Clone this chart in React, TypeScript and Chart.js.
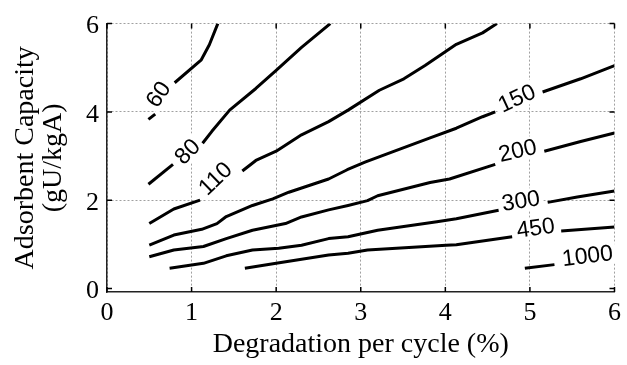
import { useEffect, useRef } from "react";
import { Chart, registerables } from "chart.js";

Chart.register(...registerables);

const xTicks = [0, 1, 2, 3, 4, 5, 6];
const yTicks = [0, 2, 4, 6];

// contour lines (null = gap for the inline label)
const c60X = [0.49, 0.57, null, 0.8, 1.115, 1.21, 1.31];
const c60Y = [3.83, 3.95, null, 4.66, 5.18, 5.52, 6.0];

const c80X = [0.49, 0.78, null, 1.13, 1.24, 1.45, 1.76, 2.0, 2.3, 2.64];
const c80Y = [2.36, 2.81, null, 3.29, 3.56, 4.04, 4.53, 4.94, 5.46, 6.0];

const c110X = [0.5, 0.79, 1.1, null, 1.6, 1.76, 2.0, 2.3, 2.62, 2.85, 3.22, 3.51, 3.76, 4.13, 4.44, 4.61];
const c110Y = [1.47, 1.8, 2.0, null, 2.66, 2.9, 3.11, 3.48, 3.78, 4.04, 4.49, 4.75, 5.05, 5.53, 5.79, 6.0];

const c150X = [0.5, 0.79, 1.12, 1.3, 1.41, 1.72, 1.96, 2.15, 2.62, 2.84, 3.05, 3.24, 3.82, 4.13, 4.44, 4.59, null, 5.15, 5.6, 6.0];
const c150Y = [0.98, 1.21, 1.34, 1.47, 1.63, 1.88, 2.03, 2.18, 2.48, 2.69, 2.86, 3.0, 3.41, 3.63, 3.89, 4.0, null, 4.45, 4.75, 5.05];

const c200X = [0.5, 0.79, 1.14, 1.41, 1.72, 2.11, 2.3, 2.62, 2.85, 3.08, 3.2, 3.82, 4.05, 4.59, null, 5.17, 5.6, 6.0];
const c200Y = [0.72, 0.87, 0.95, 1.13, 1.32, 1.47, 1.62, 1.78, 1.88, 1.99, 2.1, 2.4, 2.48, 2.81, null, 3.11, 3.33, 3.52];

const c300X = [0.74, 1.14, 1.41, 1.72, 2.03, 2.3, 2.62, 2.85, 3.2, 3.9, 4.13, 4.63, null, 5.21, 5.56, 6.0];
const c300Y = [0.46, 0.57, 0.74, 0.87, 0.91, 0.98, 1.13, 1.17, 1.32, 1.51, 1.58, 1.77, null, 1.95, 2.07, 2.21];

const c450X = [1.63, 2.0, 2.62, 2.85, 3.08, 4.01, 4.13, 4.79, null, 5.37, 6.0];
const c450Y = [0.46, 0.57, 0.76, 0.8, 0.87, 0.98, 0.99, 1.17, null, 1.3, 1.39];

const c1000X = [4.94, 5.29];
const c1000Y = [0.46, 0.54];

const contourXs = [c60X, c80X, c110X, c150X, c200X, c300X, c450X, c1000X];
const contourYs = [c60Y, c80Y, c110Y, c150Y, c200Y, c300Y, c450Y, c1000Y];

// inline contour labels
const levelLabels = ["60", "80", "110", "150", "200", "300", "450", "1000"];
const labelX = [0.607, 0.95, 1.28, 4.845, 4.854, 4.893, 5.068, 5.68];
const labelY = [4.4, 3.1, 2.49, 4.31, 3.125, 1.987, 1.373, 0.741];
const labelAngle = [-55, -45, -44, -25, -13, -9, -8, -7];

const SERIF = '"Liberation Serif", "Times New Roman", serif';
const SANS = '"Liberation Sans", Arial, sans-serif';

function buildDatasets() {
  const sets: any[] = [];
  contourXs.forEach((xs, ci) => {
    const ys = contourYs[ci];
    let seg: { x: number; y: number }[] = [];
    const flush = () => {
      if (seg.length > 1) {
        sets.push({
          data: seg,
          borderColor: "#000",
          borderWidth: 3,
          pointRadius: 0,
          tension: 0,
          fill: false,
          borderCapStyle: "butt",
          borderJoinStyle: "round",
        });
      }
      seg = [];
    };
    xs.forEach((x, i) => {
      const y = ys[i];
      if (x === null || y === null) flush();
      else seg.push({ x, y });
    });
    flush();
  });
  return sets;
}

const tickMarks = {
  id: "tickMarks",
  afterDatasetsDraw(chart: any) {
    const { ctx, chartArea } = chart;
    const xs = chart.scales.x;
    const ys = chart.scales.y;
    const len = 5;
    ctx.save();
    ctx.strokeStyle = "#000";
    ctx.lineWidth = 1.5;
    ctx.beginPath();
    xTicks.forEach((v) => {
      const px = xs.getPixelForValue(v);
      ctx.moveTo(px, chartArea.bottom);
      ctx.lineTo(px, chartArea.bottom - len);
      ctx.moveTo(px, chartArea.top);
      ctx.lineTo(px, chartArea.top + len);
    });
    yTicks.forEach((v) => {
      const py = ys.getPixelForValue(v);
      ctx.moveTo(chartArea.left, py);
      ctx.lineTo(chartArea.left + len, py);
      ctx.moveTo(chartArea.right, py);
      ctx.lineTo(chartArea.right - len, py);
    });
    ctx.stroke();
    ctx.restore();
  },
};

const contourLabels = {
  id: "contourLabels",
  afterDatasetsDraw(chart: any) {
    const { ctx } = chart;
    const xs = chart.scales.x;
    const ys = chart.scales.y;
    ctx.save();
    ctx.font = `23px ${SANS}`;
    ctx.textAlign = "center";
    ctx.textBaseline = "middle";
    levelLabels.forEach((t, i) => {
      const px = xs.getPixelForValue(labelX[i]);
      const py = ys.getPixelForValue(labelY[i]);
      const w = ctx.measureText(t).width;
      ctx.save();
      ctx.translate(px, py);
      ctx.rotate((labelAngle[i] * Math.PI) / 180);
      ctx.fillStyle = "#fff";
      ctx.fillRect(-w / 2 - 3, -11, w + 6, 22);
      ctx.fillStyle = "#000";
      ctx.fillText(t, 0, 1);
      ctx.restore();
    });
    ctx.restore();
  },
};

export default function App() {
  const ref = useRef<HTMLCanvasElement | null>(null);

  useEffect(() => {
    if (!ref.current) return;
    const chart = new Chart(ref.current, {
      type: "line",
      data: { datasets: buildDatasets() },
      options: {
        animation: false,
        responsive: false,
        devicePixelRatio: 1,
        events: [],
        layout: { padding: { top: 20, right: 6, bottom: 0, left: 0 } },
        plugins: {
          legend: { display: false },
          tooltip: { enabled: false },
        },
        scales: {
          x: {
            type: "linear",
            min: 0,
            max: 6,
            afterBuildTicks: (s: any) => {
              s.ticks = xTicks.map((v) => ({ value: v }));
            },
            afterFit: (s: any) => {
              s.height = 73;
            },
            grid: {
              color: "#a0a0a0",
              lineWidth: 1,
              drawTicks: false,
            },
            border: { display: true, color: "#222", width: 1.5, dash: [2, 2] },
            ticks: {
              color: "#000",
              padding: 6,
              maxRotation: 0,
              font: { family: SERIF, size: 26 },
              callback: (v: any) => String(v),
            },
            title: {
              display: true,
              text: "Degradation per cycle (%)",
              color: "#000",
              font: { family: SERIF, size: 28, lineHeight: 1.2 },
              padding: { top: 0, bottom: 4 },
            },
          },
          y: {
            type: "linear",
            min: -0.08,
            max: 6,
            afterBuildTicks: (s: any) => {
              s.ticks = yTicks.map((v) => ({ value: v }));
            },
            afterFit: (s: any) => {
              s.width = 107;
            },
            grid: {
              color: (c: any) => (c.tick && c.tick.value === 0 ? "rgba(0,0,0,0)" : "#a0a0a0"),
              lineWidth: 1,
              drawTicks: false,
            },
            border: { display: true, color: "#222", width: 1.5, dash: [2, 2] },
            ticks: {
              color: "#000",
              padding: 8,
              labelOffset: 3,
              font: { family: SERIF, size: 26 },
              callback: (v: any) => String(v),
            },
            title: {
              display: true,
              text: ["Adsorbent Capacity", "(gU/kgA)"],
              color: "#000",
              font: { family: SERIF, size: 28, lineHeight: 1.0 },
              padding: { top: 12, bottom: 0 },
            },
          },
        },
      },
      plugins: [tickMarks, contourLabels],
    } as any);
    return () => chart.destroy();
  }, []);

  return (
    <div style={{ position: "fixed", left: 0, top: 0, width: 627, height: 365, background: "#fff" }}>
      <canvas ref={ref} width={627} height={365} style={{ display: "block" }} />
    </div>
  );
}
